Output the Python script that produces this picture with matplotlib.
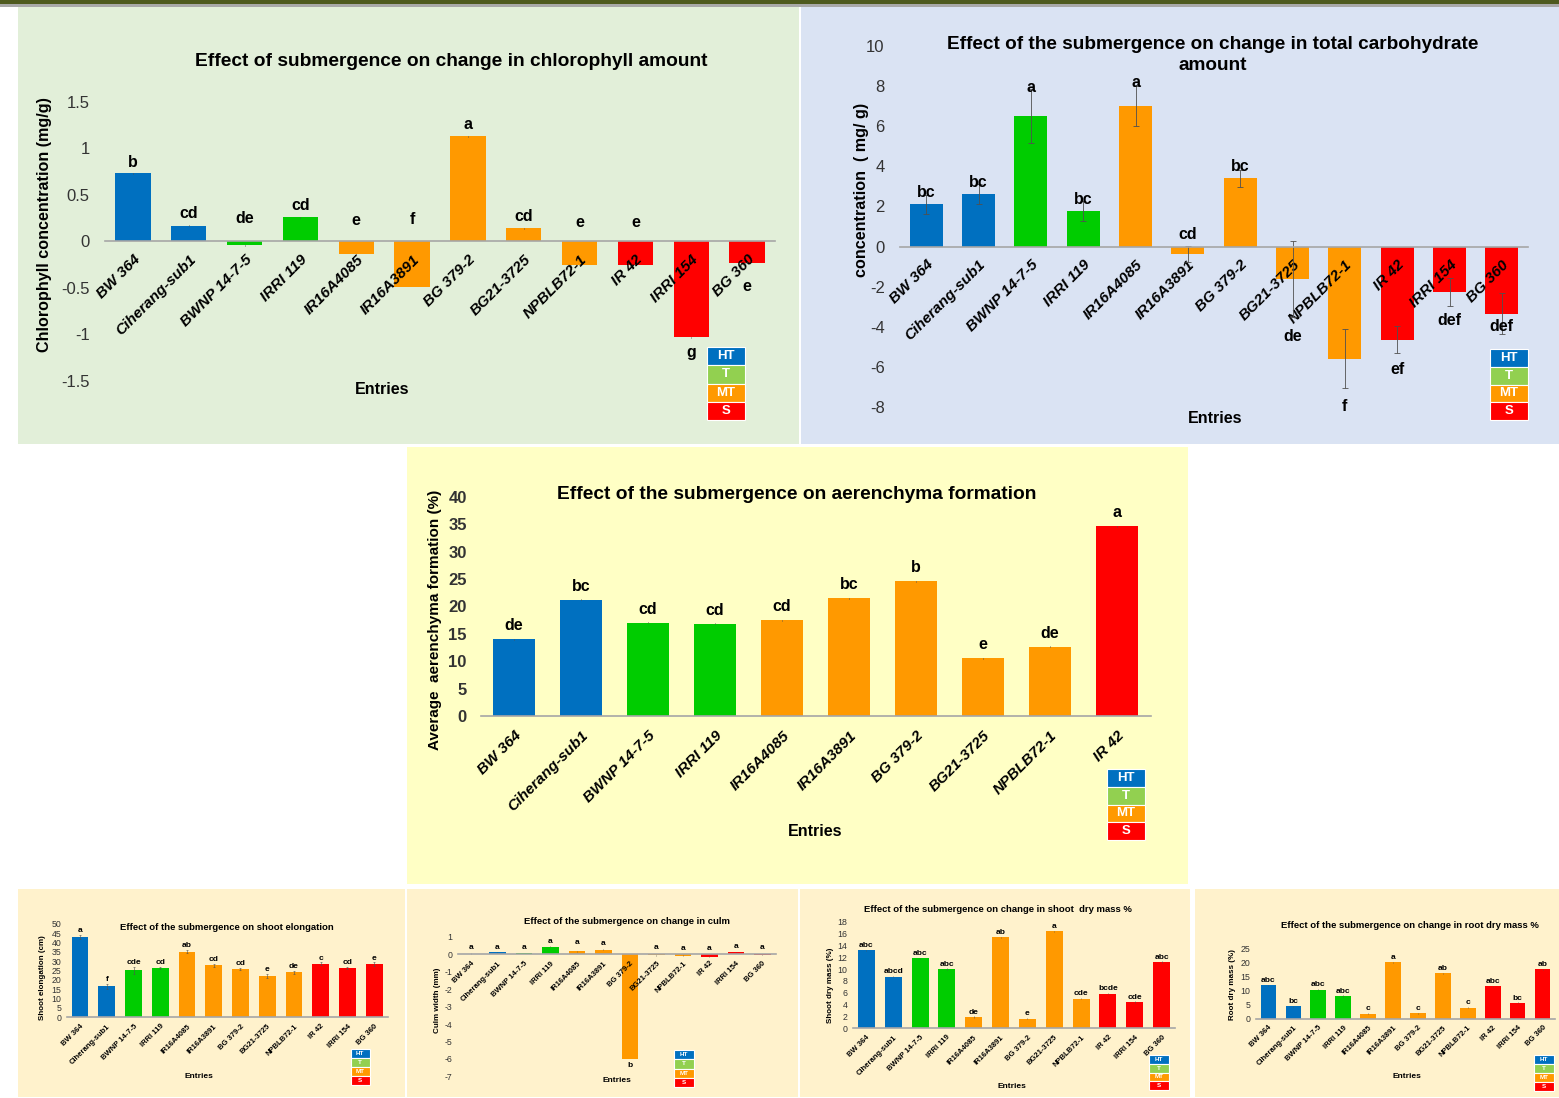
import numpy as np
import matplotlib.pyplot as plt
from matplotlib.patches import Rectangle

W, H = 1559, 1098
plt.rcParams['font.family'] = ['Liberation Sans', 'DejaVu Sans']
plt.rcParams['axes.unicode_minus'] = False

entries = ['BW 364', 'Ciherang-sub1', 'BWNP 14-7-5', 'IRRI 119', 'IR16A4085', 'IR16A3891',
           'BG 379-2', 'BG21-3725', 'NPBLB72-1', 'IR 42', 'IRRI 154', 'BG 360']
groups = ['HT', 'HT', 'T', 'T', 'MT', 'MT', 'MT', 'MT', 'MT', 'S', 'S', 'S']
bar_colors = {'HT': '#0070C0', 'T': '#00CC00', 'MT': '#FF9900', 'S': '#FF0000'}
legend_labels = ['HT', 'T', 'MT', 'S']
legend_colors = ['#0070C0', '#92D050', '#FF9900', '#FF0000']

# chlorophyll (mg/g)
chl = [0.73, 0.17, -0.04, 0.26, -0.14, -0.49, 1.13, 0.14, -0.25, -0.25, -1.03, -0.23]
chl_err = [0.005] * 12
chl_letters = ['b', 'cd', 'de', 'cd', 'e', 'f', 'a', 'cd', 'e', 'e', 'g', 'e']
chl_letter_y = [0.85, 0.30, 0.25, 0.38, 0.22, 0.23, 1.25, 0.27, 0.20, 0.20, -1.19, -0.49]

# total carbohydrate (mg/g)
carb = [2.11, 2.64, 6.52, 1.77, 7.0, -0.36, 3.41, -1.63, -5.6, -4.65, -2.28, -3.34]
carb_err = [0.47, 0.5, 1.35, 0.5, 1.0, 0.4, 0.43, 1.9, 1.47, 0.67, 0.69, 1.0]
carb_letters = ['bc', 'bc', 'a', 'bc', 'a', 'cd', 'bc', 'de', 'f', 'ef', 'def', 'def']
carb_letter_y = [2.7, 3.2, 7.95, 2.35, 8.2, 0.6, 4.0, -4.5, -7.98, -6.15, -3.7, -4.0]

# aerenchyma formation (%)
aer = [14.0, 21.2, 17.0, 16.8, 17.5, 21.5, 24.6, 10.5, 12.6, 34.6]
aer_err = [0.1] * 10
aer_letters = ['de', 'bc', 'cd', 'cd', 'cd', 'bc', 'b', 'e', 'de', 'a']

# shoot elongation (cm)
shoot = [42.9, 16.5, 25.1, 26.3, 35.0, 27.8, 25.8, 22.1, 24.0, 28.5, 26.3, 28.5]
shoot_err = [1.2, 1.5, 2.0, 0.6, 0.9, 0.8, 0.6, 1.2, 0.9, 0.8, 0.6, 0.9]
shoot_letters = ['a', 'f', 'cde', 'cd', 'ab', 'cd', 'cd', 'e', 'de', 'c', 'cd', 'e']

# culm width (mm)
culm = [0.05, 0.12, 0.08, 0.44, 0.17, 0.27, -6.0, -0.05, -0.08, -0.12, 0.12, -0.01]
culm_err = [0.02] * 12
culm_letters = ['a'] * 6 + ['b'] + ['a'] * 5
culm_letter_y = [0.37, 0.42, 0.37, 0.75, 0.7, 0.65, -6.4, 0.42, 0.32, 0.32, 0.45, 0.37]

# shoot dry mass (%)
sdm = [13.2, 8.7, 11.8, 10.0, 1.9, 15.35, 1.65, 16.4, 5.0, 5.85, 4.45, 11.2]
sdm_err = [0.1] * 12
sdm_letters = ['abc', 'abcd', 'abc', 'abc', 'de', 'ab', 'e', 'a', 'cde', 'bcde', 'cde', 'abc']

# root dry mass (%)
rdm = [11.85, 4.4, 10.3, 8.05, 1.8, 20.1, 1.9, 16.2, 3.9, 11.5, 5.6, 17.5]
rdm_err = [0.2] * 12
rdm_letters = ['abc', 'bc', 'abc', 'abc', 'c', 'a', 'c', 'ab', 'c', 'abc', 'bc', 'ab']

fig = plt.figure(figsize=(W / 100, H / 100), dpi=100)


def box(x0, y0, x1, y1, color, z=-10, **kw):
    fig.patches.append(Rectangle((x0 / W, 1 - y1 / H), (x1 - x0) / W, (y1 - y0) / H,
                                 transform=fig.transFigure, facecolor=color, zorder=z, **kw))


def ftext(x, y, s, **kw):
    fig.text(x / W, 1 - y / H, s, **kw)


def px_axes(x0, y0, x1, y1):
    ax = fig.add_axes([x0 / W, 1 - y1 / H, (x1 - x0) / W, (y1 - y0) / H])
    ax.patch.set_alpha(0)
    return ax


def legend(x0, y0, x1, y1, fs):
    h = (y1 - y0) / 4
    for i, (lab, c) in enumerate(zip(legend_labels, legend_colors)):
        box(x0, y0 + i * h, x1, y0 + (i + 1) * h, c, z=2, edgecolor='white', linewidth=0.8)
        ftext((x0 + x1) / 2, y0 + (i + 0.5) * h, lab, color='white', fontsize=fs,
              fontweight='bold', ha='center', va='center', zorder=3)


def bars(ax, vals, errs, ylim, yticks, fs_y, fs_x, ypad, xpad, italic=True,
         ybold=False, cap=0, lw=0.6):
    n = len(vals)
    x = np.arange(n)
    cols = [bar_colors[g] for g in groups[:n]]
    ax.bar(x, vals, width=0.63, color=cols, yerr=errs,
           error_kw=dict(ecolor='#505050', elinewidth=lw, capsize=cap, capthick=lw))
    ax.set_xlim(-0.5, n - 0.5)
    ax.set_ylim(ylim)
    ax.set_yticks(yticks)
    ax.set_yticklabels(['%g' % t for t in yticks], fontsize=fs_y, color='#333333',
                       fontweight='bold' if ybold else 'normal')
    for s in ['top', 'right', 'left']:
        ax.spines[s].set_visible(False)
    ax.spines['bottom'].set_position(('data', 0))
    ax.spines['bottom'].set_color('#A6A6A6')
    ax.spines['bottom'].set_linewidth(1.2)
    ax.set_xticks(x)
    ax.set_xticklabels(entries[:n], rotation=45, ha='right', va='top', rotation_mode='anchor',
                       fontsize=fs_x, fontweight='bold', style='italic' if italic else 'normal')
    ax.tick_params(length=0)
    ax.tick_params(axis='y', pad=ypad)
    ax.tick_params(axis='x', pad=xpad)
    return x


def letters_at(ax, x, ys, labs, fs):
    for xi, yi, lab in zip(x, ys, labs):
        ax.text(xi, yi, lab, ha='center', va='center', fontsize=fs, fontweight='bold')


def letters_above(ax, x, vals, errs, labs, fs, off):
    for xi, v, e, lab in zip(x, vals, errs, labs):
        ax.annotate(lab, (xi, v + e), xytext=(0, off), textcoords='offset points',
                    ha='center', va='bottom', fontsize=fs, fontweight='bold')


# backgrounds
box(0, 0, W, 4, '#4E5A1E')
box(0, 4, W, 7, '#A8A8A8')
box(18, 7, 799, 444, '#E2EFD9')
box(801, 7, W, 444, '#DAE3F3')
box(407, 447, 1188, 884, '#FFFFC5')
box(18, 889, 405, 1097, '#FFF2CC')
box(407, 889, 798, 1097, '#FFF2CC')
box(800, 889, 1190, 1097, '#FFF2CC')
box(1195, 889, W, 1097, '#FFF2CC')

# chlorophyll
ax = px_axes(105, 101.7, 775, 381)
x = bars(ax, chl, chl_err, (-1.5, 1.5), [-1.5, -1, -0.5, 0, 0.5, 1, 1.5], 12, 11, 11, 8)
letters_at(ax, x, chl_letter_y, chl_letters, 11.5)
ftext(451, 61, 'Effect of submergence on change in chlorophyll amount', fontsize=13.8,
      fontweight='bold', ha='center', va='center')
ftext(45, 225, 'Chlorophyll concentration (mg/g)', fontsize=11.6, fontweight='bold',
      rotation=90, ha='center', va='center')
ftext(382, 390, 'Entries', fontsize=11.5, fontweight='bold', ha='center', va='center')
legend(707, 347, 745, 420, 9.5)

# carbohydrate
ax = px_axes(900, 46, 1528, 407)
x = bars(ax, carb, carb_err, (-8, 10), list(range(-8, 11, 2)), 12, 11, 11, 8, cap=2)
letters_at(ax, x, carb_letter_y, carb_letters, 11.5)
ftext(1213, 55, 'Effect of the submergence on change in total carbohydrate\namount',
      fontsize=13.7, fontweight='bold', ha='center', va='center', linespacing=1.25)
ftext(862, 190, 'concentration  ( mg/ g)', fontsize=11.6, fontweight='bold',
      rotation=90, ha='center', va='center')
ftext(1215, 418, 'Entries', fontsize=11.5, fontweight='bold', ha='center', va='center')
legend(1490, 349, 1528, 420, 9.5)

# aerenchyma
ax = px_axes(480.6, 496.7, 1150.6, 716)
x = bars(ax, aer, aer_err, (0, 40), list(range(0, 41, 5)), 12, 11, 10, 9, ybold=True)
letters_above(ax, x, aer, aer_err, aer_letters, 11.5, 4)
ftext(797, 495, 'Effect of the submergence on aerenchyma formation', fontsize=13.8,
      fontweight='bold', ha='center', va='center')
ftext(435, 620, 'Average  aerenchyma formation (%)', fontsize=11, fontweight='bold',
      rotation=90, ha='center', va='center')
ftext(815, 831, 'Entries', fontsize=11.5, fontweight='bold', ha='center', va='center')
legend(1107, 769, 1145, 840, 9.5)

# shoot elongation
ax = px_axes(66.7, 923.7, 387.5, 1017.3)
x = bars(ax, shoot, shoot_err, (0, 50), list(range(0, 51, 5)), 6.3, 5.5, 4, 4, italic=False,
         cap=1, lw=0.4)
letters_above(ax, x, shoot, shoot_err, shoot_letters, 6, 0.5)
ftext(227, 928, 'Effect of the submergence on shoot elongation', fontsize=6.8,
      fontweight='bold', ha='center', va='center')
ftext(42, 978, 'Shoot elongation (cm)', fontsize=5.8, fontweight='bold',
      rotation=90, ha='center', va='center')
ftext(199, 1076, 'Entries', fontsize=6, fontweight='bold', ha='center', va='center')
legend(350.5, 1049, 370, 1085, 4.5)

# culm width
ax = px_axes(457.7, 937, 775.7, 1076.3)
x = bars(ax, culm, culm_err, (-7, 1), list(range(-7, 2)), 6.3, 5.5, 4, 4, italic=False,
         lw=0.4)
letters_at(ax, x, culm_letter_y, culm_letters, 6)
ftext(627, 921, 'Effect of the submergence on change in culm', fontsize=6.8,
      fontweight='bold', ha='center', va='center')
ftext(438, 1000, 'Culm width (mm)', fontsize=5.8, fontweight='bold',
      rotation=90, ha='center', va='center')
ftext(617, 1081, 'Entries', fontsize=6, fontweight='bold', ha='center', va='center')
legend(674, 1050, 694, 1087, 4.5)

# shoot dry mass
ax = px_axes(853, 921.7, 1175, 1028.3)
x = bars(ax, sdm, sdm_err, (0, 18), list(range(0, 19, 2)), 6.3, 5.5, 4, 4, italic=False,
         lw=0.4)
letters_above(ax, x, sdm, sdm_err, sdm_letters, 6, 0.5)
ftext(998, 910, 'Effect of the submergence on change in shoot  dry mass %', fontsize=6.8,
      fontweight='bold', ha='center', va='center')
ftext(830, 985, 'Shoot dry mass (%)', fontsize=5.8, fontweight='bold',
      rotation=90, ha='center', va='center')
ftext(1012, 1086, 'Entries', fontsize=6, fontweight='bold', ha='center', va='center')
legend(1149, 1055, 1169, 1090, 4.5)

# root dry mass
ax = px_axes(1256, 948.3, 1555, 1018.7)
x = bars(ax, rdm, rdm_err, (0, 25), list(range(0, 26, 5)), 6.3, 5.5, 4, 4, italic=False,
         lw=0.4)
letters_above(ax, x, rdm, rdm_err, rdm_letters, 6, 0.5)
ftext(1410, 926, 'Effect of the submergence on change in root dry mass %', fontsize=6.8,
      fontweight='bold', ha='center', va='center')
ftext(1232, 985, 'Root dry mass (%)', fontsize=5.8, fontweight='bold',
      rotation=90, ha='center', va='center')
ftext(1407, 1077, 'Entries', fontsize=6, fontweight='bold', ha='center', va='center')
legend(1534, 1055, 1554, 1091, 4.5)

fig.savefig('out.png', dpi=100, facecolor='white')
